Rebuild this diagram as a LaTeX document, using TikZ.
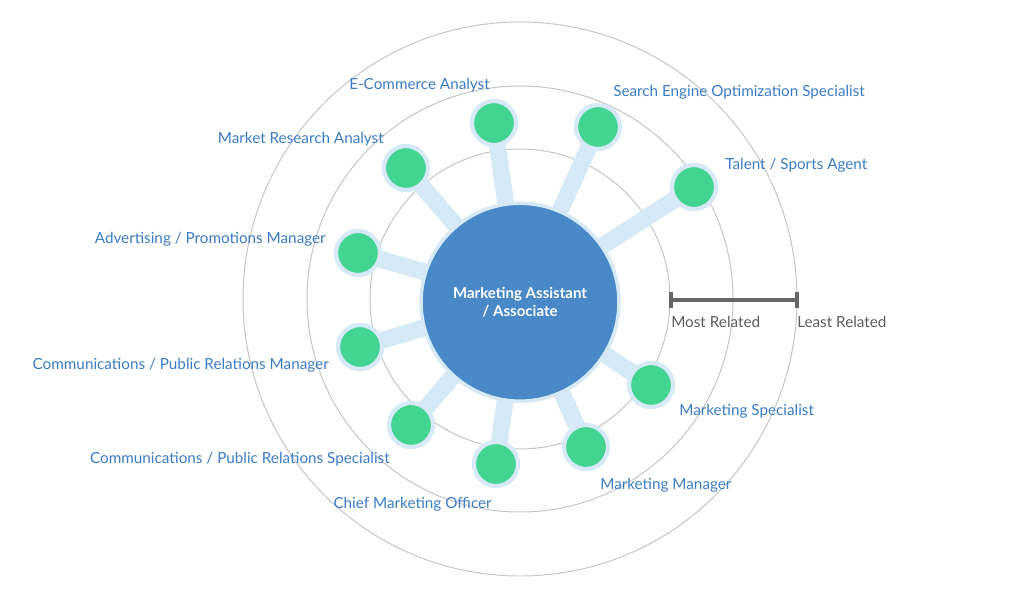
\documentclass[tikz,border=0pt]{standalone}
\usepackage{fontspec}
\setmainfont{Lato}
\definecolor{hubblue}{HTML}{4A89C8}
\definecolor{spokeblue}{HTML}{D6E9F7}
\definecolor{leafgreen}{HTML}{42D490}
\definecolor{labblue}{HTML}{3A7CC4}
\definecolor{ringgray}{HTML}{C4C4C4}
\definecolor{bargray}{HTML}{666666}
\tikzset{
  leafnode/.style={circle, fill=leafgreen, draw=spokeblue, line width=3pt, minimum size=44*0.025cm, inner sep=0pt},
  leaflabel/.style={text=labblue, font=\fontsize{10.85}{12}\selectfont, inner sep=0pt},
  scalelabel/.style={text=bargray!90!black, font=\fontsize{10.85}{12}\selectfont, inner sep=0pt, anchor=west},
}
\begin{document}
\begin{tikzpicture}[x=0.025cm, y=-0.025cm]
\useasboundingbox (0,0) rectangle (1024,596);
\def\ra{150}
\def\rb{213}
\def\rc{277}
\coordinate (M)  at (520,299);
\coordinate (P1) at (494,123);
\coordinate (P2) at (598,127);
\coordinate (P3) at (694,187);
\coordinate (P4) at (406,168);
\coordinate (P5) at (358,253);
\coordinate (P6) at (360,347);
\coordinate (P7) at (411,425);
\coordinate (P8) at (496,464);
\coordinate (P9) at (586,447);
\coordinate (P10) at (651,385);
% rings
\draw[ringgray, line width=0.7pt] (M) circle (\ra);
\draw[ringgray, line width=0.7pt] (M) circle (\rb);
\draw[ringgray, line width=0.7pt] (M) circle (\rc);
% spokes
\foreach \i in {1,...,10}
  \draw[spokeblue, line width=12pt] (M) -- (P\i);
% hub
\node[circle, fill=hubblue, draw=spokeblue, line width=2.5pt, minimum size=198*0.025cm, inner sep=0pt,
      text=white, align=center, font=\fontsize{10.7}{13}\selectfont\bfseries] (hub) at ([yshift=-0.08cm]M)
      {Marketing Assistant\\/ Associate};
% leaves
\foreach \i in {1,...,10}
  \node[leafnode] (n\i) at (P\i) {};
% labels
\node[leaflabel, anchor=east] (l1) at (490,85)  {E-Commerce Analyst};
\node[leaflabel, anchor=west] (l2) at (613,92)  {Search Engine Optimization Specialist};
\node[leaflabel, anchor=west] (l3) at (725,165) {Talent / Sports Agent};
\node[leaflabel, anchor=east] (l4) at (384,139) {Market Research Analyst};
\node[leaflabel, anchor=east] (l5) at (326,239) {Advertising / Promotions Manager};
\node[leaflabel, anchor=east] (l6) at (329,365) {Communications / Public Relations Manager};
\node[leaflabel, anchor=east] (l7) at (390,459) {Communications / Public Relations Specialist};
\node[leaflabel, anchor=east] (l8) at (492,504) {Chief Marketing Officer};
\node[leaflabel, anchor=west] (l9) at (600,485) {Marketing Manager};
\node[leaflabel, anchor=west] (l10) at (679,411) {Marketing Specialist};
% scale bar
\coordinate (S1) at (671,300);
\coordinate (S2) at (797,300);
\draw[bargray, line width=2.2pt] (S1) -- (S2);
\draw[bargray, line width=2.2pt] ([yshift=-0.19cm]S1) -- ([yshift=0.19cm]S1);
\draw[bargray, line width=2.2pt] ([yshift=-0.19cm]S2) -- ([yshift=0.19cm]S2);
\node[scalelabel] (most)  at (671,322) {Most Related};
\node[scalelabel] (least) at (797,322) {Least Related};
\end{tikzpicture}
\end{document}
